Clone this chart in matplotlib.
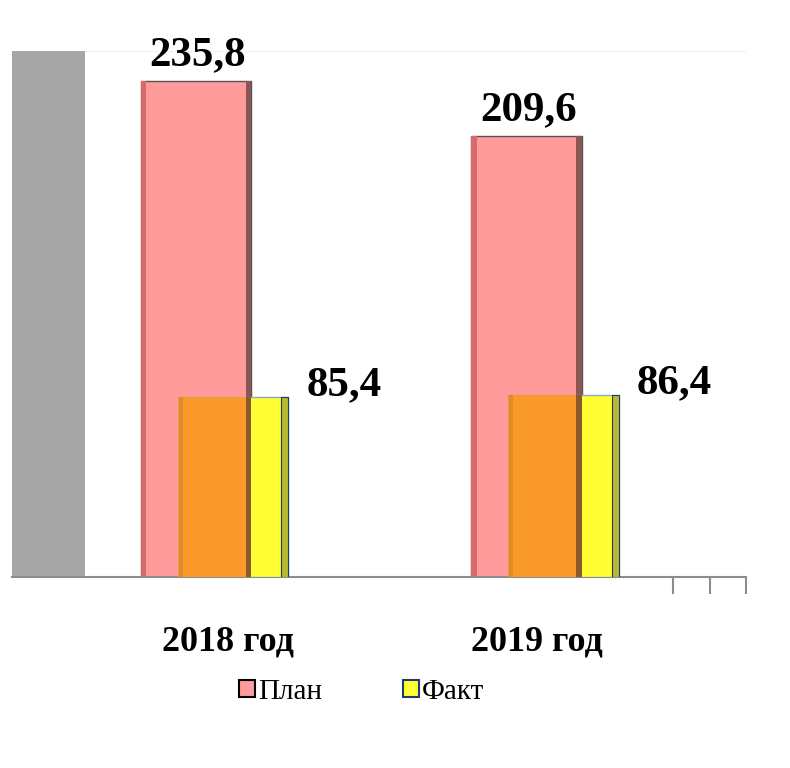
import matplotlib.pyplot as plt
import numpy as np
from matplotlib.patches import Patch

plt.rcParams['font.family'] = ['Liberation Serif', 'DejaVu Serif']

categories = ['2018 год', '2019 год']
plan = [235.8, 209.6]
fact = [85.4, 86.4]
plan_labels = ['235,8', '209,6']
fact_labels = ['85,4', '86,4']

x = np.arange(len(categories))
width = 0.333
shift = 0.056
cat_label_x = [0.04, 0.976]

fig = plt.figure(figsize=(7.9, 7.68), dpi=100)
ax = fig.add_axes([0.0152, 0.2487, 0.929, 0.6849])

# grey side wall of the 3d chart
ax.axvspan(-0.613, -0.392, ymin=0, ymax=1, color='#a6a6a6', zorder=1, lw=0)
ax.axhline(250, color='#f2f2f2', lw=1, zorder=0)

# plan bars
ax.bar(x - shift, plan, width, color='#ff9b9b', edgecolor='#555555', lw=1, zorder=2)
ax.bar(x - shift - width / 2 + 0.008, plan, 0.016, color='#d86a6a', lw=0, zorder=2)
ax.bar(x - shift + width / 2 - 0.008, plan, 0.016, color='#8a5555', lw=0, zorder=2)

# fact bars
ax.bar(x + shift, fact, width, color='#ffff33', edgecolor='#8fa8c8', lw=1, zorder=3)
ax.bar(x + shift + width / 2 - 0.01, fact, 0.02, color='#b8b832', edgecolor='#1f3a6e', lw=0.8, zorder=3)
# overlap looks orange
ov_left = x + shift - width / 2
ov_right = x - shift + width / 2
ax.bar((ov_left + ov_right) / 2, fact, ov_right - ov_left, color='#f99a2a', lw=0, zorder=4)
ax.bar(ov_right - 0.008, fact, 0.016, color='#8c5a2a', lw=0, zorder=4)
ax.bar(ov_left + 0.008, fact, 0.012, color='#e08a30', lw=0, zorder=4)

for i in range(len(x)):
    ax.text(x[i] - shift + 0.005, plan[i] + 7.6, plan_labels[i], ha='center', va='baseline',
            fontsize=31, fontweight='bold', zorder=5)
    ax.text(x[i] + shift + 0.335, fact[i] + 1, fact_labels[i], ha='center', va='baseline',
            fontsize=31, fontweight='bold', zorder=5)

ax.set_xlim(-0.613, 1.608)
ax.set_ylim(0, 250)
for s in ['top', 'right', 'left']:
    ax.spines[s].set_visible(False)
ax.spines['bottom'].set_color('#8c8c8c')
ax.spines['bottom'].set_linewidth(1.5)
ax.set_yticks([])
ax.set_xticks([1.387, 1.499, 1.608])
ax.set_xticklabels([])
ax.tick_params(axis='x', length=12, width=1.5, color='#8c8c8c')

for i in range(len(x)):
    ax.text(cat_label_x[i], -0.123, categories[i], transform=ax.get_xaxis_transform(),
            ha='center', va='center', fontsize=26, fontweight='bold')

handles = [Patch(facecolor='#ff9b9b', edgecolor='black', lw=1.5),
           Patch(facecolor='#ffff33', edgecolor='#1f3a6e', lw=1.5)]
fig.legend(handles, ['План', 'Факт'], loc='center', bbox_to_anchor=(0.458, 0.099),
           ncol=2, frameon=False, fontsize=21, handlelength=0.55, handleheight=0.55,
           handletextpad=0.12, columnspacing=2.75)

fig.savefig('out.png', dpi=100)
